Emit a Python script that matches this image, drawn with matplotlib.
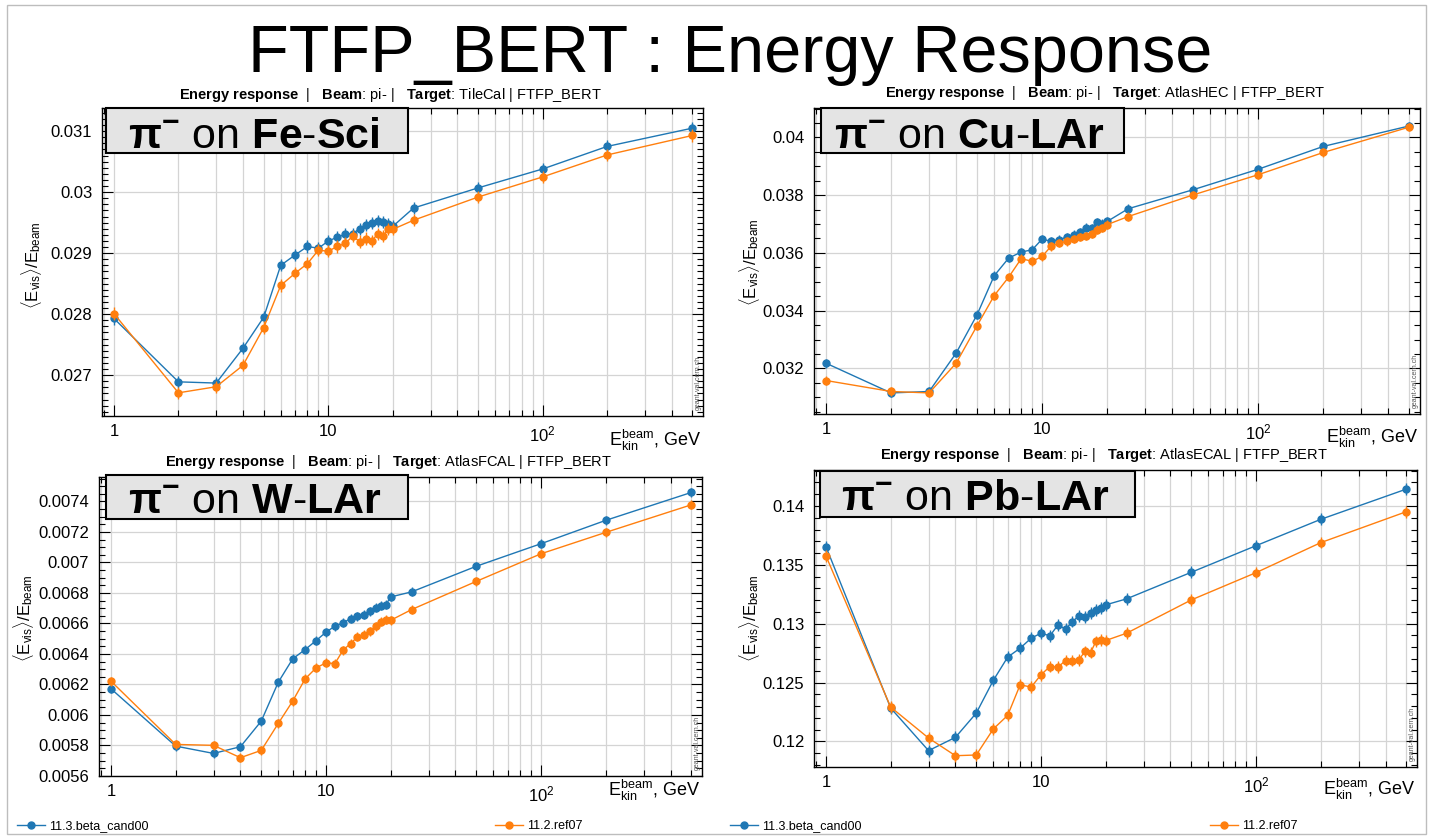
import matplotlib
matplotlib.use("Agg")
import matplotlib.pyplot as plt
import matplotlib.patches as mpatches
from matplotlib.ticker import (LogLocator, MultipleLocator, AutoMinorLocator,
                               FuncFormatter, FormatStrFormatter, NullFormatter)

plt.rcParams['font.family'] = ['Liberation Sans', 'DejaVu Sans']
plt.rcParams['mathtext.fontset'] = 'custom'
plt.rcParams['mathtext.rm'] = 'Liberation Sans'
plt.rcParams['mathtext.it'] = 'Liberation Sans:italic'
plt.rcParams['mathtext.bf'] = 'Liberation Sans:bold'

# ---- data ----
energy = [1, 2, 3, 4, 5, 6, 7, 8, 9, 10, 11, 12, 13, 14, 15, 16, 17, 18, 19, 20,
          25, 50, 100, 200, 500]

fe_new = [0.02793, 0.02689, 0.02687, 0.02744, 0.02795, 0.02880, 0.02897, 0.02911,
          0.02908, 0.02920, 0.02926, 0.02931, 0.02932, 0.02940, 0.02946, 0.02950,
          0.02953, 0.02951, 0.02948, 0.02944, 0.02974, 0.03007, 0.03038, 0.03075,
          0.03105]
fe_ref = [0.02801, 0.02671, 0.02681, 0.02716, 0.02778, 0.02847, 0.02867, 0.02883,
          0.02905, 0.02903, 0.02911, 0.02916, 0.02928, 0.02919, 0.02924, 0.02920,
          0.02932, 0.02928, 0.02940, 0.02939, 0.02954, 0.02992, 0.03025, 0.03061,
          0.03093]

cu_new = [0.03218, 0.03115, 0.03120, 0.03253, 0.03386, 0.03521, 0.03582, 0.03603,
          0.03611, 0.03648, 0.03640, 0.03646, 0.03655, 0.03663, 0.03671, 0.03688,
          0.03686, 0.03706, 0.03701, 0.03709, 0.03753, 0.03819, 0.03890, 0.03969,
          0.04040]
cu_ref = [0.03158, 0.03120, 0.03115, 0.03218, 0.03348, 0.03452, 0.03516, 0.03580,
          0.03571, 0.03588, 0.03623, 0.03634, 0.03640, 0.03648, 0.03655, 0.03659,
          0.03666, 0.03680, 0.03686, 0.03698, 0.03726, 0.03801, 0.03871, 0.03948,
          0.04036]

w_new = [0.006172, 0.005796, 0.005748, 0.005792, 0.005960, 0.006215, 0.006368,
         0.006429, 0.006488, 0.006543, 0.006582, 0.006604, 0.006632, 0.006647,
         0.006658, 0.006680, 0.006702, 0.006717, 0.006724, 0.006774, 0.006807,
         0.006975, 0.007123, 0.007276, 0.007459]
w_ref = [0.006222, 0.005807, 0.005801, 0.005720, 0.005768, 0.005945, 0.006091,
         0.006237, 0.006309, 0.006342, 0.006337, 0.006425, 0.006468, 0.006512,
         0.006527, 0.006549, 0.006582, 0.006610, 0.006625, 0.006621, 0.006691,
         0.006876, 0.007057, 0.007197, 0.007378]

pb_new = [0.13655, 0.12283, 0.11921, 0.12034, 0.12240, 0.12518, 0.12716, 0.12792,
          0.12877, 0.12919, 0.12897, 0.12990, 0.12953, 0.13018, 0.13066, 0.13055,
          0.13089, 0.13117, 0.13132, 0.13160, 0.13211, 0.13437, 0.13663, 0.13887,
          0.14144]
pb_ref = [0.13576, 0.12291, 0.12028, 0.11878, 0.11884, 0.12105, 0.12221, 0.12481,
          0.12461, 0.12566, 0.12636, 0.12631, 0.12687, 0.12687, 0.12693, 0.12764,
          0.12755, 0.12849, 0.12863, 0.12857, 0.12919, 0.13202, 0.13434, 0.13689,
          0.13952]

# rough statistical error per panel
fe_err = 0.0001
cu_err = 0.00015
w_err = 0.00003
pb_err = 0.0005

label_new = "11.3.beta_cand00"
label_ref = "11.2.ref07"
targets = ["TileCal", "AtlasHEC", "AtlasFCAL", "AtlasECAL"]
materials = ["Fe", "Sci", "Cu", "LAr", "W", "LAr", "Pb", "LAr"]

BLUE = '#1f77b4'
ORANGE = '#ff7f0e'
W, H = 1430, 836


def fx(x):
    return x / W


def fy(y):
    return 1 - y / H


fig = plt.figure(figsize=(14.3, 8.36), dpi=100)

# (left, top, right, bottom) in pixels
rects = [(102, 108, 703, 416), (814, 108, 1420, 414),
         (99, 477, 702, 776), (814, 470, 1417, 767)]
ylims = [(0.02633, 0.03138), (0.03042, 0.04102), (0.0056, 0.00756), (0.11782, 0.14306)]
ysteps = [0.001, 0.002, 0.0002, 0.005]
yminor = [10, 4, 4, 5]
series = [(fe_new, fe_ref, fe_err), (cu_new, cu_ref, cu_err),
          (w_new, w_ref, w_err), (pb_new, pb_ref, pb_err)]
# subtitle centre x, baseline y
subt = [(390, 99), (1105, 97), (389, 466), (1104, 459)]
# label box (x0, y0, x1, y1) and text start/baseline
boxes = [(106, 108, 408, 153), (821, 108, 1124, 153),
         (106, 475, 408, 519), (820, 471, 1135, 517)]
btext = [(128, 148), (834, 148), (128, 513), (841, 510)]
ylab = [(32, 265), (749, 262), (24, 618), (749, 618)]
xlab_base = [446, 443, 796, 795]


def xfmt(v, pos):
    if abs(v - 1) < 1e-9:
        return '1'
    if abs(v - 10) < 1e-9:
        return '10'
    if abs(v - 100) < 1e-9:
        return r'$10^{2}$'
    return ''


for i in range(4):
    l, t, r, b = rects[i]
    ax = fig.add_axes([fx(l), fy(b), (r - l) / W, (b - t) / H])
    new, ref, err = series[i]
    hb = ax.errorbar(energy, new, yerr=err, fmt='-o', color=BLUE, ms=5, lw=1,
                     elinewidth=1, capsize=0, zorder=3)
    ho = ax.errorbar(energy, ref, yerr=err, fmt='-o', color=ORANGE, ms=5, lw=1,
                     elinewidth=1, capsize=0, zorder=4)
    ax.set_xscale('log')
    ax.set_xlim(0.88, 560)
    ax.set_ylim(*ylims[i])
    ax.xaxis.set_major_locator(LogLocator(base=10))
    ax.xaxis.set_minor_locator(LogLocator(base=10, subs=range(2, 10)))
    ax.xaxis.set_major_formatter(FuncFormatter(xfmt))
    ax.xaxis.set_minor_formatter(NullFormatter())
    ax.yaxis.set_major_locator(MultipleLocator(ysteps[i]))
    ax.yaxis.set_minor_locator(AutoMinorLocator(yminor[i]))
    ax.yaxis.set_major_formatter(FormatStrFormatter('%g'))
    ax.grid(True, which='major', axis='both', color='#d4d4d4', lw=0.9)
    ax.grid(True, which='minor', axis='x', color='#d4d4d4', lw=0.9)
    ax.set_axisbelow(True)
    ax.tick_params(which='both', direction='in', top=True, right=True,
                   labelsize=12, width=0.8)
    ax.tick_params(which='major', length=8)
    ax.tick_params(which='minor', length=4)
    ax.tick_params(axis='y', pad=7)
    ax.tick_params(axis='x', pad=6)
    for s in ax.spines.values():
        s.set_linewidth(1.0)
    ax.text(0.992, 0.02, 'geant-val.cern.ch', transform=ax.transAxes, rotation=90,
            ha='center', va='bottom', fontsize=5, color='#555555')

    # subtitle
    sx, sy = subt[i]
    fig.text(fx(sx), fy(sy),
             r'$\mathbf{Energy\ response}$  |   $\mathbf{Beam}$: pi- |   '
             r'$\mathbf{Target}$: ' + targets[i] + ' | FTFP_BERT',
             ha='center', va='baseline', fontsize=10.5)

    # material box
    x0, y0, x1, y1 = boxes[i]
    fig.add_artist(mpatches.Rectangle((fx(x0), fy(y1)), (x1 - x0) / W, (y1 - y0) / H,
                                      transform=fig.transFigure, facecolor='#e4e4e4',
                                      edgecolor='black', lw=1.5, zorder=5))
    tx, ty = btext[i]
    m1, m2 = materials[2 * i], materials[2 * i + 1]
    fig.text(fx(tx), fy(ty),
             r'$\mathbf{\pi}^{\mathbf{-}}$ on $\mathbf{' + m1 + r'}$-$\mathbf{' + m2 + '}$',
             fontsize=31, va='baseline', ha='left', zorder=6)

    # axis labels
    lx, ly = ylab[i]
    fig.text(fx(lx), fy(ly),
             r'$\langle \mathrm{E}_{\mathrm{vis}}\rangle/\mathrm{E}_{\mathrm{beam}}$',
             rotation=90, ha='center', va='center', fontsize=12)
    fig.text(fx(r - 2), fy(xlab_base[i]),
             r'$\mathrm{E}_{\mathrm{kin}}^{\mathrm{beam}}$, GeV',
             ha='right', va='baseline', fontsize=13)

    if i >= 2:
        lx0 = 17 if i == 2 else 730
        lx1 = 495 if i == 2 else 1210
        for h, lab, px in [(hb[0], label_new, lx0), (ho[0], label_ref, lx1)]:
            fig.legend(handles=[h], labels=[lab], loc='center left',
                       bbox_to_anchor=(fx(px), fy(826)), frameon=False,
                       fontsize=9, handlelength=2.2, handletextpad=0.4,
                       borderpad=0, borderaxespad=0, numpoints=1)

fig.text(fx(730), fy(72), 'FTFP_BERT : Energy Response', ha='center',
         va='baseline', fontsize=48)

fig.add_artist(mpatches.Rectangle((fx(7), fy(834)), (1426 - 7) / W, (834 - 5) / H,
                                  transform=fig.transFigure, fill=False,
                                  edgecolor='#bdbdbd', lw=1))

fig.savefig('out.png', dpi=100)
